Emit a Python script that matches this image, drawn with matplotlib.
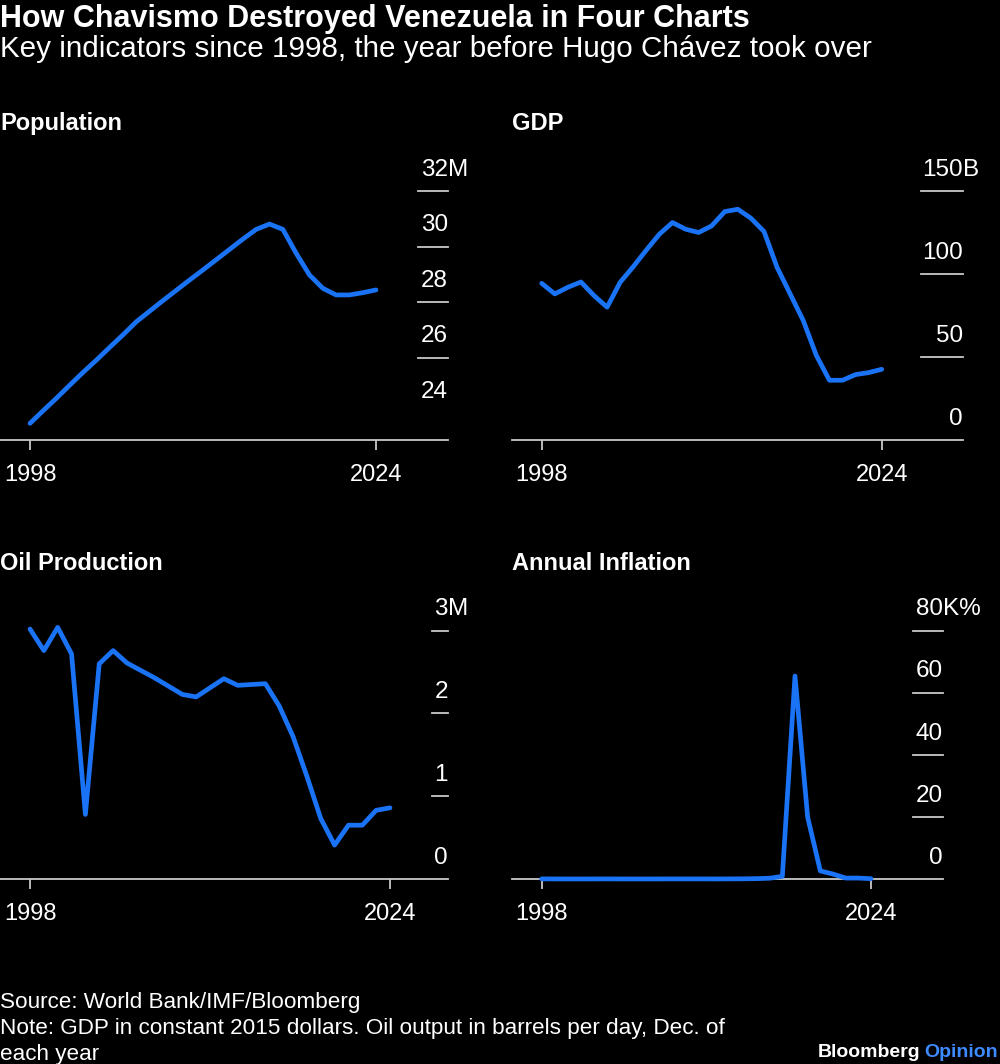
import matplotlib
matplotlib.use("Agg")
import matplotlib.pyplot as plt
import matplotlib.transforms as mtransforms

plt.rcParams["font.family"] = ["Liberation Sans", "DejaVu Sans"]

years = list(range(1998, 2025))

# population, millions
population = [23.64, 24.10, 24.55, 25.02, 25.48, 25.92, 26.38, 26.83, 27.30,
              27.68, 28.06, 28.43, 28.80, 29.16, 29.53, 29.90, 30.27, 30.62,
              30.81, 30.62, 29.76, 28.98, 28.50, 28.26, 28.26, 28.34, 28.44]

# GDP, billions of constant 2015 dollars
gdp = [94.4, 88.0, 92.0, 95.2, 87.0, 80.0, 95.0, 104.4, 114.4, 124.0, 131.0,
       127.0, 125.0, 129.0, 137.6, 139.0, 133.6, 125.6, 104.0, 88.0, 72.0,
       51.0, 36.0, 36.0, 39.4, 40.6, 42.6]

# oil output, million barrels per day (December)
oil = [3.02, 2.76, 3.04, 2.72, 0.78, 2.60, 2.76, 2.61, 2.52, 2.43, 2.33, 2.23,
       2.20, 2.31, 2.42, 2.34, 2.35, 2.36, 2.09, 1.72, 1.24, 0.73, 0.41, 0.65,
       0.65, 0.83, 0.86]

# annual inflation, thousands of percent
inflation = [0.036, 0.024, 0.016, 0.012, 0.022, 0.031, 0.022, 0.016, 0.014,
             0.019, 0.031, 0.027, 0.028, 0.026, 0.021, 0.041, 0.062, 0.12,
             0.25, 0.86, 65.4, 19.9, 2.6, 1.6, 0.3, 0.3, 0.1]

panel_titles = ["Population", "GDP", "Oil Production", "Annual Inflation"]
panel_data = [population, gdp, oil, inflation]
panel_ticks = [[24, 26, 28, 30, 32], [0, 50, 100, 150], [0, 1, 2, 3], [0, 20, 40, 60, 80]]
panel_suffix = ["M", "B", "M", "K%"]
panel_ymin = [23.04, 0, 0, 0]

title = "How Chavismo Destroyed Venezuela in Four Charts"
subtitle = "Key indicators since 1998, the year before Hugo Chávez took over"
source = "Source: World Bank/IMF/Bloomberg"
note_lines = ["Note: GDP in constant 2015 dollars. Oil output in barrels per day, Dec. of",
              "each year"]

W, H = 1000, 1064
BLUE = "#1a72f5"
GREY = "#c8c8c8"

fig = plt.figure(figsize=(W / 100, H / 100), dpi=100)
fig.patch.set_facecolor("black")

# layout in pixels: left, right, top tick line, baseline, x of 1998, x of 2024, tick line width
layout = [
    (0, 448, 191, 440, 30, 376, 30),
    (511.7, 963, 191, 440, 541.7, 881.7, 42),
    (0, 448, 630.7, 879, 30, 390, 16),
    (511.7, 943, 630.7, 879, 541.7, 871, 30),
]
title_y = [130, 130, 570, 570]

for i in range(4):
    left, right, top, bottom, x0, x1, tw = layout[i]
    ax = fig.add_axes([left / W, 1 - bottom / H, (right - left) / W, (bottom - top) / H])
    ax.set_facecolor("black")
    ppy = (x1 - x0) / 26.0
    ax.set_xlim(1998 - (x0 - left) / ppy, 2024 + (right - x1) / ppy)
    ticks = panel_ticks[i]
    ax.set_ylim(panel_ymin[i], ticks[-1])

    ax.plot(years, panel_data[i], color=BLUE, lw=3.4, solid_capstyle="round",
            solid_joinstyle="round", clip_on=False, zorder=3)

    for s in ["top", "left", "right"]:
        ax.spines[s].set_visible(False)
    ax.spines["bottom"].set_color(GREY)
    ax.spines["bottom"].set_linewidth(1.3)
    ax.set_yticks([])
    ax.set_xticks([1998, 2024])
    ax.tick_params(axis="x", colors=GREY, length=7, width=1.3, pad=10,
                   labelcolor="white", labelsize=17)

    trans = mtransforms.blended_transform_factory(ax.transAxes, ax.transData)
    for j, t in enumerate(ticks):
        if j > 0:
            ax.plot([1 - tw / (right - left), 1], [t, t], transform=trans,
                    color=GREY, lw=1.3, clip_on=False)
        ax.annotate(str(t), xy=(1, t), xycoords=trans, xytext=(0, 11),
                    textcoords="offset points", ha="right", va="baseline",
                    color="white", fontsize=17.5)
        if j == len(ticks) - 1:
            ax.annotate(panel_suffix[i], xy=(1, t), xycoords=trans, xytext=(0.2, 11),
                        textcoords="offset points", ha="left", va="baseline",
                        color="white", fontsize=17.5)

    fig.text(left / W, 1 - title_y[i] / H, panel_titles[i], color="white",
             fontsize=17, fontweight="bold", va="baseline", ha="left")

fig.text(0, 1 - 27 / H, title, color="white", fontsize=22, fontweight="bold",
         va="baseline", ha="left")
fig.text(0, 1 - 57 / H, subtitle, color="white", fontsize=21.3, va="baseline", ha="left")

fig.text(0, 1 - 1008 / H, source, color="white", fontsize=16.2, va="baseline", ha="left")
for k, line in enumerate(note_lines):
    fig.text(0, 1 - (1034 + 26 * k) / H, line, color="white", fontsize=16.2,
             va="baseline", ha="left")

op = fig.text(0.998, 1 - 1057 / H, "Opinion", color="#3d8bff", fontsize=14,
              fontweight="bold", va="baseline", ha="right")
fig.canvas.draw()
bb = op.get_window_extent()
fig.text((bb.x0 - 4) / W, 1 - 1057 / H, "Bloomberg", color="white", fontsize=14,
         fontweight="bold", va="baseline", ha="right")

fig.savefig("out.png", dpi=100, facecolor="black")
